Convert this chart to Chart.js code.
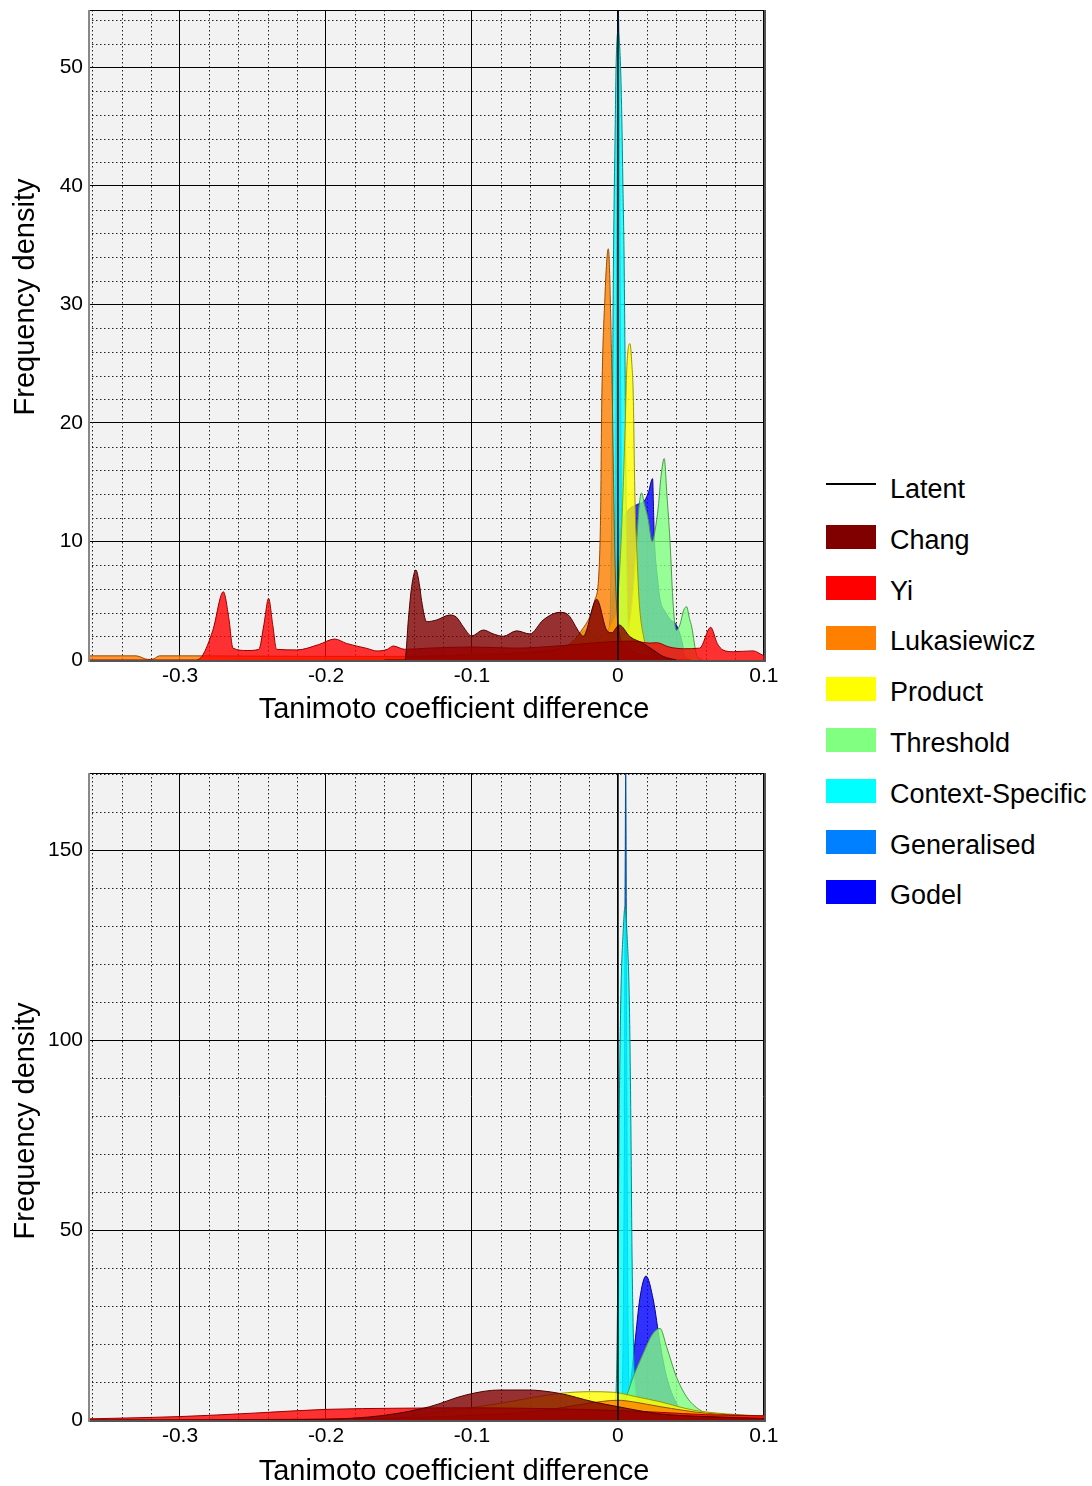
<!DOCTYPE html>
<html>
<head>
<meta charset="utf-8">
<script src="https://cdn.jsdelivr.net/npm/chart.js@4.4.1/dist/chart.umd.min.js"></script>
<style>
body { margin: 0; background: #fff; font-family: 'Liberation Sans', Arial, sans-serif; }
#page { position: relative; width: 1092px; height: 1486px; overflow: hidden; }
canvas { position: absolute; left: 0; }
#topChart { top: 0; }
#bottomChart { top: 760px; }
#legend { position: absolute; left: 826px; top: 464px; }
.row { position: absolute; left: 0; width: 270px; height: 50px; }
.swatch { position: absolute; left: 0; top: 10px; width: 50px; height: 24px; }
.line { position: absolute; left: 0; top: 19px; width: 50px; height: 2px; background: #000; }
.label { position: absolute; left: 64px; top: 0; line-height: 50px; font-size: 27px; color: #000; white-space: nowrap; }
</style>
</head>
<body>
<div id="page">
  <canvas id="topChart" width="790" height="740"></canvas>
  <canvas id="bottomChart" width="790" height="726"></canvas>
  <div id="legend"></div>
</div>
<script>
const seriesNames = ['Latent', 'Chang', 'Yi', 'Lukasiewicz', 'Product', 'Threshold', 'Context-Specific', 'Generalised', 'Godel'];
const fillColours = ['#000000', '#800000', '#ff0000', '#ff8000', '#ffff00', '#80ff80', '#00ffff', '#0080ff', '#0000ff'];
const lineColours = ['#000000', '#4d0000', '#990000', '#994d00', '#999900', '#4d994d', '#008c8c', '#004d99', '#000099'];

const xMin = -0.363, xMax = 0.1014;
const topYMax = 54.85, bottomYMax = 170.3;

// top panel: [difference, density]
const topLatent = [[0, 0], [0, 60]];
const topChang = [[-0.16, 0], [-0.1459, 0], [-0.1435, 3.5], [-0.1413, 6.2], [-0.1384, 7.6], [-0.1358, 6.2], [-0.1345, 5.0], [-0.131, 3.23], [-0.1242, 3.38], [-0.115, 3.8], [-0.1105, 3.6], [-0.106, 2.81], [-0.1002, 2.03], [-0.0922, 2.53], [-0.0854, 2.2], [-0.0786, 2.0], [-0.0694, 2.46], [-0.0603, 2.2], [-0.0512, 3.38], [-0.0397, 4.02], [-0.034, 3.8], [-0.026, 2.25], [-0.0238, 2.0], [-0.0146, 5.12], [-0.0078, 2.53], [-0.0043, 2.3], [0.0009, 2.95], [0.0082, 1.97], [0.0173, 1.4], [0.0242, 0.84], [0.031, 0.3], [0.04, 0]];
const topYi = [[-0.363, 0], [-0.29, 0], [-0.285, 0.3], [-0.2775, 2.5], [-0.2703, 5.76], [-0.2665, 3.5], [-0.2637, 1.0], [-0.254, 0.8], [-0.246, 0.9], [-0.2425, 3.0], [-0.2393, 5.2], [-0.2365, 3.0], [-0.2338, 0.9], [-0.22, 0.85], [-0.205, 1.3], [-0.194, 1.77], [-0.186, 1.4], [-0.172, 0.98], [-0.165, 0.76], [-0.158, 0.9], [-0.154, 1.18], [-0.146, 0.9], [-0.13, 1.0], [-0.1, 1.1], [-0.07, 1.0], [-0.04, 1.2], [-0.01, 1.5], [0.01, 1.6], [0.0219, 1.43], [0.0265, 1.46], [0.035, 1.1], [0.045, 0.95], [0.056, 1.0], [0.0635, 2.76], [0.068, 1.4], [0.072, 0.84], [0.079, 0.7], [0.0925, 0.77], [0.0993, 0.4], [0.1014, 0.3]];
const topLukasiewicz = [[-0.363, 0.35], [-0.33, 0.35], [-0.322, 0.05], [-0.318, 0.1], [-0.314, 0.35], [-0.29, 0.35], [-0.2, 0.3], [-0.15, 0.3], [-0.1, 0.4], [-0.06, 0.6], [-0.035, 1.2], [-0.026, 2.3], [-0.0158, 5.06], [-0.013, 7.5], [-0.0118, 13], [-0.0112, 20.8], [-0.0089, 30.7], [-0.0066, 34.7], [-0.0043, 25], [-0.0032, 16.6], [-0.002, 8.2], [0, 3], [0.005, 1.2], [0.012, 0.6], [0.02, 0.3], [0.03, 0.1], [0.05, 0]];
const topProduct = [[-0.2, 0], [-0.15, 0.2], [-0.1, 0.5], [-0.05, 0.8], [-0.02, 1.5], [-0.01, 2], [-0.005, 3], [0, 5.5], [0.0025, 11], [0.005, 20], [0.006, 24.5], [0.0082, 26.7], [0.0095, 25], [0.0105, 22.2], [0.0116, 13.8], [0.013, 9], [0.0145, 5], [0.0175, 2], [0.021, 0.8], [0.03, 0]];
const topThreshold = [[-0.05, 0], [-0.035, 0.5], [-0.0215, 2.5], [-0.015, 1.8], [-0.008, 1.2], [0, 1.5], [0.004, 2], [0.007, 2.5], [0.0105, 5.9], [0.0128, 10], [0.0145, 13], [0.0162, 14.1], [0.018, 13.2], [0.0205, 12], [0.0235, 10], [0.0255, 11], [0.0276, 12.9], [0.0295, 15.5], [0.0317, 17.0], [0.0335, 14], [0.0356, 10.1], [0.0379, 4.5], [0.04, 2.5], [0.0425, 3], [0.045, 4.2], [0.047, 4.5], [0.049, 3.5], [0.0505, 2.8], [0.054, 0.4], [0.058, 0]];
const topContext = [[-0.012, 0], [-0.008, 0.5], [-0.0055, 3], [-0.0045, 10], [-0.0037, 22], [-0.0032, 32], [-0.0027, 38], [-0.002, 44], [-0.0013, 50], [0, 53], [0.0015, 51], [0.0026, 46], [0.0034, 40], [0.0042, 34], [0.0048, 26], [0.0054, 16], [0.0062, 7], [0.0072, 2.5], [0.009, 0.8], [0.012, 0.2], [0.015, 0]];
const topGeneralised = [[-0.01, 0], [-0.006, 0.5], [-0.003, 3], [-0.0015, 15], [-0.0008, 35], [-0.0003, 50], [0.0002, 54.85], [0.0008, 50], [0.0014, 35], [0.0022, 15], [0.0035, 3], [0.006, 0.5], [0.01, 0]];
const topGodel = [[-0.015, 0], [-0.009, 0.6], [-0.003, 5.9], [0.0002, 10.1], [0.0035, 11.8], [0.0071, 12.66], [0.0128, 13.1], [0.0185, 13.5], [0.021, 14.2], [0.0237, 15.3], [0.0245, 12], [0.025, 10], [0.027, 7], [0.029, 5], [0.0322, 4.1], [0.036, 3.4], [0.04, 2.95], [0.0436, 1.7], [0.046, 0.3], [0.05, 0]];

// bottom panel
const bottomLatent = [[0, 0], [0, 180]];
const bottomChang = [[-0.363, 0], [-0.25, 0.05], [-0.2, 0.2], [-0.17, 0.8], [-0.15, 1.8], [-0.129, 3.5], [-0.104, 6.6], [-0.081, 7.9], [-0.0625, 7.9], [-0.04, 7.0], [-0.017, 4.8], [0, 3.5], [0.029, 1.6], [0.06, 0.9], [0.1014, 0.4]];
const bottomYi = [[-0.363, 0.3], [-0.3, 0.9], [-0.25, 1.8], [-0.2, 2.8], [-0.15, 3.1], [-0.1, 3.2], [-0.05, 3.0], [0, 2.5], [0.03, 2.0], [0.06, 1.4], [0.1014, 1.1]];
const bottomLukasiewicz = [[-0.363, 0], [-0.2, 0.3], [-0.1, 1.2], [-0.05, 2.6], [-0.02, 4.4], [0, 5.2], [0.01, 4.8], [0.029, 3.5], [0.06, 1.8], [0.1014, 1.0]];
const bottomProduct = [[-0.2, 0], [-0.16, 0.3], [-0.1265, 1.8], [-0.0808, 4.4], [-0.0397, 7.0], [-0.019, 7.45], [-0.003, 7.3], [0.0128, 6.1], [0.0288, 4.8], [0.0516, 2.6], [0.0744, 1.6], [0.1014, 1.0]];
const bottomThreshold = [[-0.04, 0], [-0.017, 0.5], [-0.002, 1.8], [0.0048, 5.3], [0.0105, 11.4], [0.0173, 17.5], [0.0235, 22.5], [0.0288, 24.1], [0.0333, 19.3], [0.04, 11.4], [0.047, 6.1], [0.0562, 2.6], [0.0676, 1.0], [0.088, 0.3], [0.1014, 0.1]];
const bottomContext = [[-0.008, 0], [-0.0055, 0.5], [-0.002, 3], [-0.0008, 15], [-0.0002, 35], [0.0002, 50], [0.001, 85], [0.002, 112], [0.0035, 128], [0.0048, 135], [0.0062, 128], [0.0078, 110], [0.0088, 80], [0.0096, 45], [0.0108, 18], [0.0125, 6], [0.0145, 1.5], [0.018, 0]];
const bottomGeneralised = [[-0.003, 0], [0.002, 2], [0.0035, 20], [0.0045, 80], [0.0053, 170.3], [0.0061, 80], [0.007, 20], [0.0085, 2], [0.012, 0]];
const bottomGodel = [[-0.01, 0], [0.0002, 0.5], [0.0048, 3.5], [0.0082, 8.8], [0.0116, 20.2], [0.015, 32], [0.0192, 37.9], [0.0242, 31.6], [0.0288, 20.2], [0.0333, 11.4], [0.04, 4.4], [0.047, 1.2], [0.055, 0.3], [0.065, 0]];

const topSeries = [topLatent, topChang, topYi, topLukasiewicz, topProduct, topThreshold, topContext, topGeneralised, topGodel];
const bottomSeries = [bottomLatent, bottomChang, bottomYi, bottomLukasiewicz, bottomProduct, bottomThreshold, bottomContext, bottomGeneralised, bottomGodel];

const FONT = "'Liberation Sans', Arial, sans-serif";

function withAlpha(hex, a) {
    const n = parseInt(hex.slice(1), 16);
    return 'rgba(' + (n >> 16) + ',' + ((n >> 8) & 255) + ',' + (n & 255) + ',' + a + ')';
}

// grey panel, dotted minor grid, frame
const panelPlugin = {
    id: 'panel',
    beforeDraw(chart) {
        const {ctx, chartArea: a} = chart;
        ctx.save();
        ctx.fillStyle = '#f2f2f2';
        ctx.fillRect(a.left, a.top, a.right - a.left, a.bottom - a.top);
        ctx.restore();
    },
    beforeDatasetsDraw(chart, args, opts) {
        const {ctx, chartArea: a, scales} = chart;
        ctx.save();
        ctx.strokeStyle = '#222';
        ctx.lineWidth = 1;
        ctx.setLineDash([1.5, 2.5]);
        const xs = scales.x;
        for (let i = Math.ceil(xs.min / opts.xMinor); i * opts.xMinor <= xs.max; i++) {
            if (i % opts.xEvery === 0) continue;
            const px = Math.round(xs.getPixelForValue(i * opts.xMinor)) + 0.5;
            ctx.beginPath(); ctx.moveTo(px, a.top); ctx.lineTo(px, a.bottom); ctx.stroke();
        }
        const ys = scales.y;
        for (let i = 1; i * opts.yMinor <= ys.max; i++) {
            if (i % opts.yEvery === 0) continue;
            const py = Math.round(ys.getPixelForValue(i * opts.yMinor)) + 0.5;
            ctx.beginPath(); ctx.moveTo(a.left, py); ctx.lineTo(a.right, py); ctx.stroke();
        }
        ctx.restore();
    },
    afterDatasetsDraw(chart) {
        const {ctx, chartArea: a} = chart;
        ctx.save();
        ctx.lineWidth = 1;
        ctx.strokeStyle = '#000';
        ctx.beginPath(); ctx.moveTo(a.left, a.top + 0.5); ctx.lineTo(a.right, a.top + 0.5); ctx.stroke();
        ctx.lineWidth = 2;
        ctx.strokeStyle = '#555';
        ctx.beginPath(); ctx.moveTo(a.right - 1, a.top); ctx.lineTo(a.right - 1, a.bottom); ctx.stroke();
        ctx.beginPath(); ctx.moveTo(a.left, a.bottom + 1); ctx.lineTo(a.right, a.bottom + 1); ctx.stroke();
        ctx.strokeStyle = '#888';
        ctx.beginPath(); ctx.moveTo(a.left + 1, a.top); ctx.lineTo(a.left + 1, a.bottom + 2); ctx.stroke();
        ctx.restore();
    }
};

const titlesPlugin = {
    id: 'titles',
    afterDraw(chart, args, opts) {
        const ctx = chart.ctx;
        ctx.save();
        ctx.font = '29px ' + FONT;
        ctx.fillStyle = '#000';
        ctx.textAlign = 'center';
        ctx.textBaseline = 'middle';
        ctx.fillText(opts.xText, opts.xPos[0], opts.xPos[1]);
        ctx.translate(opts.yPos[0], opts.yPos[1]);
        ctx.rotate(-Math.PI / 2);
        ctx.fillText(opts.yText, 0, 0);
        ctx.restore();
    }
};

function makeChart(id, series, yMax, yStep, yMinor, canvasH, plotBottom, padTop, yTitleY, xTitleY) {
    const datasets = series.map((pts, i) => ({
        label: seriesNames[i],
        data: pts.map(p => ({x: p[0], y: p[1]})),
        borderColor: lineColours[i],
        borderWidth: i === 0 ? 1.5 : 1,
        backgroundColor: withAlpha(fillColours[i], 0.8),
        fill: i === 0 ? false : 'origin',
        pointRadius: 0,
        tension: i === 0 ? 0 : 0.4,
        cubicInterpolationMode: i === 0 ? 'default' : 'monotone'
    }));
    return new Chart(document.getElementById(id), {
        type: 'line',
        data: {datasets: datasets},
        plugins: [panelPlugin, titlesPlugin],
        options: {
            responsive: false,
            animation: false,
            layout: {padding: {top: padTop, right: 790 - 766, left: 0, bottom: 0}},
            plugins: {
                legend: {display: false},
                tooltip: {enabled: false},
                panel: {xMinor: 0.02, xEvery: 5, yMinor: yMinor, yEvery: yStep / yMinor},
                titles: {
                    xText: 'Tanimoto coefficient difference', xPos: [454, xTitleY],
                    yText: 'Frequency density', yPos: [26, yTitleY]
                }
            },
            scales: {
                x: {
                    type: 'linear',
                    min: xMin,
                    max: xMax,
                    afterFit: s => {
                        s.height = canvasH - plotBottom;
                        s.paddingLeft = 0;
                        s.paddingRight = 0;
                    },
                    ticks: {
                        stepSize: 0.1,
                        includeBounds: false,
                        autoSkip: false,
                        maxRotation: 0,
                        padding: 4,
                        color: '#000',
                        font: {size: 21, family: FONT},
                        callback: v => Math.abs(v) < 1e-9 ? '0' : String(Math.round(v * 10) / 10)
                    },
                    grid: {color: '#000', lineWidth: 1, drawTicks: false},
                    border: {display: false}
                },
                y: {
                    min: 0,
                    max: yMax,
                    afterFit: s => {
                        s.width = 88;
                        s.paddingTop = 0;
                        s.paddingBottom = 0;
                    },
                    ticks: {
                        stepSize: yStep,
                        includeBounds: false,
                        padding: 5,
                        color: '#000',
                        font: {size: 21, family: FONT},
                        callback: v => String(Math.round(v))
                    },
                    grid: {color: '#000', lineWidth: 1, drawTicks: false},
                    border: {display: false}
                }
            }
        }
    });
}

makeChart('topChart', topSeries, topYMax, 10, 2, 740, 660, 10, 297, 710);
makeChart('bottomChart', bottomSeries, bottomYMax, 50, 10, 726, 660, 13, 361, 712);

// legend
const legend = document.getElementById('legend');
seriesNames.forEach((name, i) => {
    const row = document.createElement('div');
    row.className = 'row';
    row.style.top = (i * 50.8) + 'px';
    const mark = document.createElement('div');
    if (i === 0) {
        mark.className = 'line';
    } else {
        mark.className = 'swatch';
        mark.style.background = fillColours[i];
    }
    const label = document.createElement('div');
    label.className = 'label';
    label.textContent = name;
    row.appendChild(mark);
    row.appendChild(label);
    legend.appendChild(row);
});
</script>
</body>
</html>
